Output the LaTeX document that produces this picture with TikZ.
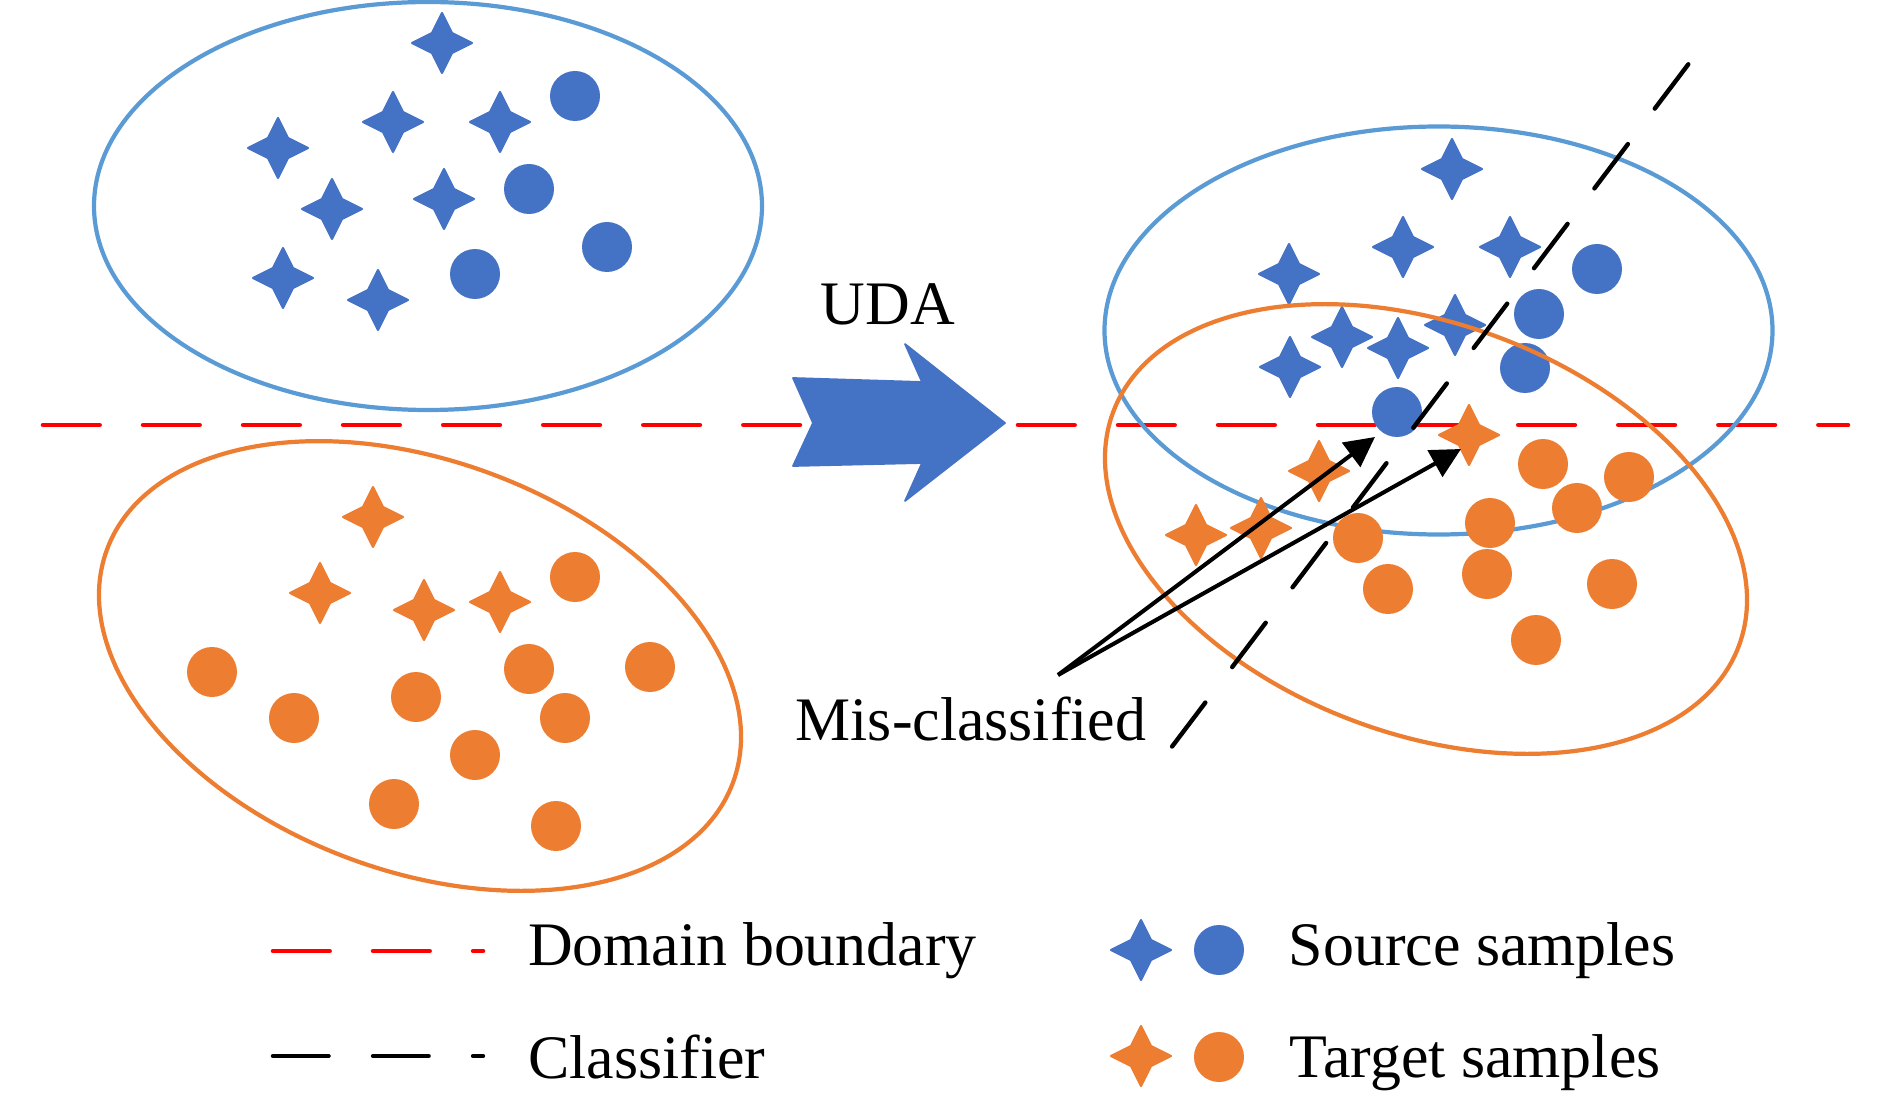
\documentclass[tikz,border=0pt]{standalone}
\usepackage{fontspec}
\setmainfont{Liberation Serif}
\usetikzlibrary{arrows.meta}
\definecolor{srcblue}{HTML}{4472C4}
\definecolor{tgtorange}{HTML}{ED7D31}
\definecolor{ellblue}{HTML}{5B9BD5}
\definecolor{bred}{HTML}{FF0000}
\begin{document}
\begin{tikzpicture}[x=0.01cm,y=-0.01cm,
  ellsrc/.style={draw=ellblue, line width=1.2pt},
  elltgt/.style={draw=tgtorange, line width=1.2pt},
  domline/.style={draw=bred, line width=1.3pt, line cap=round, dash pattern=on 16.1pt off 12.35pt},
  clsline/.style={draw=black, line width=1.25pt, line cap=round, dash pattern=on 15.8pt off 12.65pt},
  lbl/.style={inner sep=0pt, anchor=base west, font=\fontsize{17.6}{21}\selectfont},
  misarrow/.style={draw=black, line width=1.15pt, -{Triangle[length=8.5pt,width=8.5pt]}},
  udaarrow/.style={fill=srcblue, draw=srcblue, line width=0.5pt, line join=round},
  pics/fstar/.style={code={\fill[#1, draw=#1, line width=0.6pt, line join=round] (0,-30) -- (10,-10) -- (30,0) -- (10,10) -- (0,30) -- (-10,10) -- (-30,0) -- (-10,-10) -- cycle;}},
]
\useasboundingbox (0,0) rectangle (1890,1097);

% ---------- left: source domain ----------
\draw[ellsrc] (428,206) ellipse [x radius=334, y radius=204];
\foreach \p in {(442,43),(393,122),(500,122),(278,148),(332,209),(444,199),(283,278),(378,300)}
  \pic at \p {fstar=srcblue};
\foreach \p in {(575,96),(529,189),(607,247),(475,274)}
  \fill[srcblue] \p circle [radius=25];

% ---------- left: target domain ----------
\draw[elltgt, rotate around={-20.5:(420,666)}] (420,666) ellipse [x radius=334, y radius=205];
\foreach \p in {(373,517),(320,593),(424,610),(500,602)}
  \pic at \p {fstar=tgtorange};
\foreach \p in {(575,577),(212,672),(294,718),(416,697),(529,669),(650,667),(565,718),(475,755),(394,804),(556,826)}
  \fill[tgtorange] \p circle [radius=25];

% ---------- domain boundary ----------
\draw[domline] (43,425) -- (801,425);
\draw[domline] (1018,425) -- (1848,425);

% ---------- UDA arrow ----------
\draw[udaarrow] (793,378) -- (922,382) -- (905,344) -- (1005,423) -- (905,501) -- (922,463) -- (793,466) -- (813,423) -- cycle;
\node[lbl] (uda) at (820,325) {UDA};

% ---------- right: after adaptation ----------
\draw[ellsrc] (1438.5,330.5) ellipse [x radius=334, y radius=204];
\foreach \p in {(1452,169),(1403,247),(1510,247),(1289,274),(1455,325),(1342,337),(1398,348),(1290,367)}
  \pic at \p {fstar=srcblue};
\foreach \p in {(1597,269),(1539,314),(1525,368),(1397,412)}
  \fill[srcblue] \p circle [radius=25];

\draw[elltgt, rotate around={-20.5:(1426,529)}] (1426,529) ellipse [x radius=334, y radius=205];
\foreach \p in {(1469,435),(1319,471),(1196,535),(1261,528)}
  \pic at \p {fstar=tgtorange};
\foreach \p in {(1543,464),(1629,477),(1577,508),(1490,523),(1358,538),(1388,589),(1487,574),(1612,584),(1536,640)}
  \fill[tgtorange] \p circle [radius=25];

% ---------- classifier ----------
\coordinate (clsA) at (1688.3,64.3);
\coordinate (clsB) at (1172.1,746.5);
\draw[clsline] (clsA) -- (clsB);

% ---------- mis-classified ----------
\node[lbl] (mis) at (795,740) {Mis-classified};
\coordinate (misfrom) at (1058,675);
\coordinate (misblue) at (1375,437);
\coordinate (misorange) at (1461,449);
\draw[misarrow] (misfrom) -- (misblue);
\draw[misarrow] (misfrom) -- (misorange);

% ---------- legend ----------
\coordinate (legdA) at (273,951);
\coordinate (legdB) at (483,951);
\draw[domline] (legdA) -- (legdB);
\node[lbl] (legdom) at (527.5,965) {Domain boundary};
\coordinate (legcA) at (273,1056);
\coordinate (legcB) at (483,1056);
\draw[clsline] (legcA) -- (legcB);
\node[lbl] (legcls) at (527.5,1078) {Classifier};

\pic at (1141,950) {fstar=srcblue};
\fill[srcblue] (1219,950) circle [radius=25];
\node[lbl] (legsrc) at (1288,965) {Source samples};
\pic at (1141,1056) {fstar=tgtorange};
\fill[tgtorange] (1219,1057) circle [radius=25];
\node[lbl] (legtgt) at (1289,1077) {Target samples};
\end{tikzpicture}
\end{document}
